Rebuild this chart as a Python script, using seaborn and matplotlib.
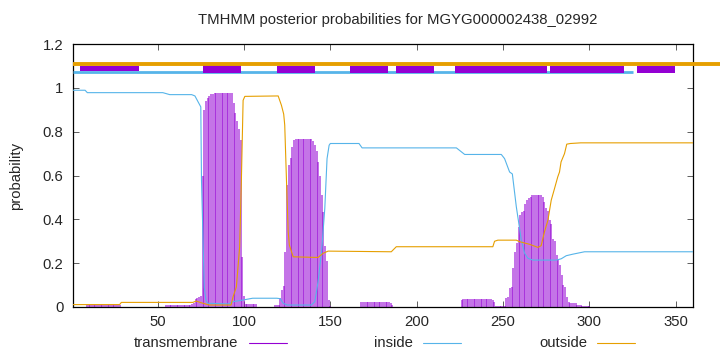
import matplotlib
matplotlib.use("Agg")
import matplotlib.pyplot as plt
from matplotlib.lines import Line2D
from matplotlib.patches import Rectangle
import pandas as pd
import seaborn as sns

# ---------------- data ----------------
title = "TMHMM posterior probabilities for MGYG000002438_02992"
residues = list(range(1, 361))
tm_prob = [
    0, 0, 0, 0, 0, 0, 0, 0, .01, .01, .01, .01, .01, .01, .01, .01, .01, .01, .01, .01,
    .01, .01, .01, .01, .01, .01, .01, .01, 0, 0, 0, 0, 0, 0, 0, 0, 0, 0, 0, 0,
    0, 0, 0, 0, 0, 0, 0, 0, 0, 0, 0, 0, 0, 0, .01, .01, .01, .01, .01, .01,
    .01, .01, .01, .01, .01, .01, .01, .01, .01, .015, .02, .035, .04, .045, .05, .60, .90, .94, .955, .965,
    .97, .972, .975, .978, .978, .978, .978, .978, .978, .978, .978, .978, .975, .93, .885, .85, .81, .76, .23, .05,
    .015, .015, .015, .015, .015, .015, .015, 0, 0, 0, 0, 0, 0, 0, 0, 0, 0, .008, .008, .008,
    .04, .077, .097, .25, .556, .647, .68, .73, .76, .765, .768, .768, .768, .768, .768, .768, .768, .768, .765, .756,
    .74, .71, .66, .60, .51, .434, .28, .21, .03, .005, 0, 0, 0, 0, 0, 0, 0, 0, 0, 0,
    0, 0, 0, 0, 0, 0, 0, .024, .024, .024, .024, .024, .024, .024, .024, .024, .024, .024, .024, .024,
    .024, .024, .024, .024, .02, .01, 0, 0, 0, 0, 0, 0, 0, 0, 0, 0, 0, 0, 0, 0,
    0, 0, 0, 0, 0, 0, 0, 0, 0, 0, 0, 0, 0, 0, 0, 0, 0, 0, 0, 0,
    0, 0, 0, 0, 0, .03, .035, .035, .035, .035, .035, .035, .035, .035, .035, .035, .035, .035, .035, .035,
    .035, .035, .035, .03, .025, .003, .003, .003, .003, .003, .003, .04, .047, .085, .092, .18, .25, .29, .366, .42,
    .434, .44, .47, .487, .498, .50, .51, .51, .51, .51, .51, .51, .50, .48, .45, .44, .396, .38, .31, .30,
    .237, .214, .19, .146, .10, .092, .047, .024, .018, .018, .018, .018, .01, .01, .01, .003, .003, .003, .003, .003,
    0, 0, 0, 0, 0, 0, 0, 0, 0, 0, 0, 0, 0, 0, 0, 0, 0, 0, 0, 0,
    0, 0, 0, 0, 0, 0, 0, 0, 0, 0, 0, 0, 0, 0, 0, 0, 0, 0, 0, 0,
    0, 0, 0, 0, 0, 0, 0, 0, 0, 0, 0, 0, 0, 0, 0, 0, 0, 0, 0, 0,
]

inside_x = [1, 8, 9.3, 53, 57, 69.7, 71.6, 73.5, 75, 75.4, 77, 78, 79, 91, 93.6, 99.5, 105, 119,
            121, 122.7, 125, 139, 141, 142.9, 144.9, 146.8, 148.1, 149.3, 150, 166.6, 168.4,
            223, 227.8, 249, 250.9, 253.8, 255.4, 257.7, 260.6, 262.5, 264.4, 267.3, 280.8,
            283.7, 286.6, 290.4, 297.2, 360]
inside_y = [0.989, 0.989, 0.978, 0.978, 0.969, 0.969, 0.963, 0.935, 0.913, 0.58, 0.09, 0.03, 0.017,
            0.014, 0.024, 0.032, 0.04, 0.04, 0.038, 0.017, 0.009, 0.009, 0.024, 0.115, 0.25, 0.45,
            0.677, 0.738, 0.746, 0.746, 0.726, 0.726, 0.696, 0.696, 0.677, 0.616, 0.607, 0.457,
            0.305, 0.245, 0.222, 0.214, 0.214, 0.22, 0.234, 0.241, 0.252, 0.252]

outside_x = [1, 28, 29, 70.4, 72.3, 73.5, 76.2, 80, 92.5, 93.7, 95.6, 97.5, 98.5, 99, 99.5, 100.5,
             119.8, 121.7, 123, 123.6, 124.6, 125.6, 126.3, 128.5, 142.9, 145.8, 148.7, 185.3,
             188.2, 244.1, 245.1, 247, 257.7, 259.6, 265.4, 270.2, 272.1, 274, 276, 277.9, 279.8,
             281.7, 282.7, 283.6, 285.6, 286.9, 289, 295, 360]
outside_y = [0.011, 0.011, 0.021, 0.021, 0.027, 0.024, 0.017, 0.009, 0.009, 0.047, 0.092, 0.275,
             0.58, 0.76, 0.943, 0.961, 0.963, 0.92, 0.88, 0.83, 0.58, 0.343, 0.282, 0.229, 0.226,
             0.245, 0.255, 0.252, 0.275, 0.275, 0.30, 0.305, 0.305, 0.298, 0.286, 0.272, 0.28,
             0.343, 0.396, 0.487, 0.54, 0.594, 0.616, 0.662, 0.70, 0.743, 0.746, 0.749, 0.749]

# topology strip above the curves
tm_box_start = [5.0, 76.2, 119, 161.2, 187.8, 222, 277, 327.3]
tm_box_end = [39.2, 98.2, 141, 183.2, 209.8, 275.2, 320.3, 349.3]
tm_box_bottom = [1.078, 1.066, 1.066, 1.066, 1.066, 1.066, 1.066, 1.066]
tm_box_top = [1.10, 1.114, 1.10, 1.10, 1.10, 1.10, 1.10, 1.10]
inside_strip = [1, 325]
inside_strip_level = 1.071
outside_strip = [1, 376]
outside_strip_level = 1.111

xticks = [50, 100, 150, 200, 250, 300, 350]
yticks = [0, 0.2, 0.4, 0.6, 0.8, 1.0, 1.2]
ytick_labels = ["0", "0.2", "0.4", "0.6", "0.8", "1", "1.2"]
legend_labels = ["transmembrane", "inside", "outside"]

# ---------------- style ----------------
C_TM = "#9400d3"
C_IN = "#56b4e9"
C_OUT = "#e69f00"
FS = 10.7

sns.set_theme(style="ticks")
plt.rcParams['font.family'] = ['Liberation Sans', 'DejaVu Sans']

fig = plt.figure(figsize=(7.2, 3.52), dpi=100)
ax = fig.add_axes([73 / 720, 1 - 307 / 352, 620 / 720, 263 / 352])

# transmembrane impulses
ax.vlines(residues, 0, tm_prob, color=C_TM, lw=1.3, alpha=0.6, zorder=2)

df_in = pd.DataFrame({"pos": inside_x, "prob": inside_y})
df_out = pd.DataFrame({"pos": outside_x, "prob": outside_y})
sns.lineplot(data=df_in, x="pos", y="prob", ax=ax, color=C_IN, lw=0.8, sort=False, zorder=3)
sns.lineplot(data=df_out, x="pos", y="prob", ax=ax, color=C_OUT, lw=0.8, sort=False, zorder=4)

# topology strip
ax.plot(inside_strip, [inside_strip_level] * 2, color=C_IN, lw=2.0, solid_capstyle="butt", zorder=3)
for s, e, b, t in zip(tm_box_start, tm_box_end, tm_box_bottom, tm_box_top):
    ax.add_patch(Rectangle((s, b), e - s, t - b, facecolor=C_TM, edgecolor="none", zorder=4))
ax.plot(outside_strip, [outside_strip_level] * 2, color=C_OUT, lw=2.8, solid_capstyle="butt",
        clip_on=False, zorder=5)

ax.set_xlim(1, 360)
ax.set_ylim(0, 1.2)
ax.set_xticks(xticks)
ax.set_yticks(yticks)
ax.set_yticklabels(ytick_labels)
ax.set_xlabel("")
ax.set_ylabel("probability", fontsize=FS, labelpad=14)
ax.tick_params(axis="both", direction="in", length=4, width=0.6, labelsize=FS,
               top=True, right=True, color="#444444")
ax.tick_params(axis="y", pad=7)
ax.tick_params(axis="x", pad=6)
for sp in ax.spines.values():
    sp.set_visible(True)
    sp.set_linewidth(0.9)
    sp.set_color("black")

fig.text(398 / 720, 1 - 20 / 352, title, ha="center", va="center", fontsize=FS)

# legend (text followed by sample line)
leg_text_right = [238.5, 413, 587]
leg_line = [(248.5, 286.8), (422.6, 460.9), (596.7, 635)]
leg_colors = [C_TM, C_IN, C_OUT]
ly = 1 - 343 / 352
for lab, tr, (l0, l1), c in zip(legend_labels, leg_text_right, leg_line, leg_colors):
    fig.text(tr / 720, ly, lab, ha="right", va="center", fontsize=FS)
    fig.add_artist(Line2D([l0 / 720, l1 / 720], [ly, ly], color=c, lw=0.8,
                          transform=fig.transFigure))

fig.savefig("out.png", dpi=100)
